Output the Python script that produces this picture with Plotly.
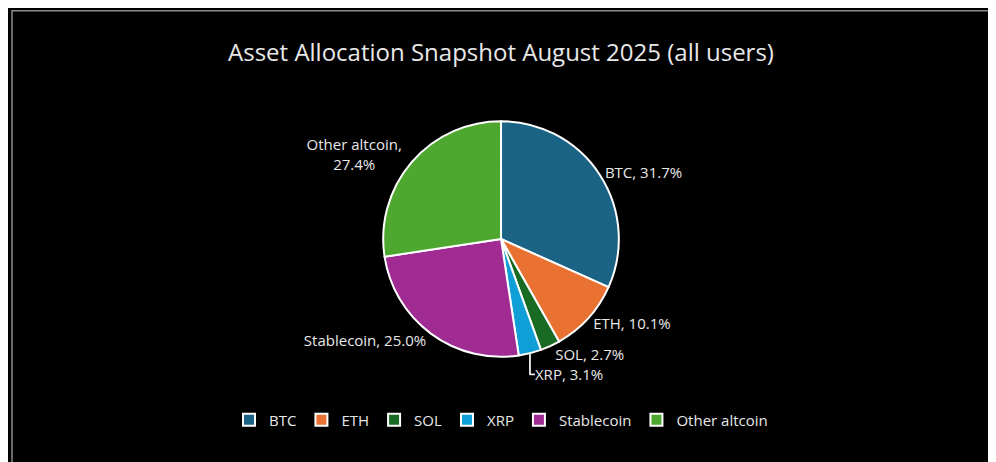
import plotly.graph_objects as go

labels = ["BTC", "ETH", "SOL", "XRP", "Stablecoin", "Other altcoin"]
values = [31.7, 10.1, 2.7, 3.1, 25.0, 27.4]
colors = ["#1b6385", "#e97132", "#196b24", "#0f9ed5", "#a02b93", "#4ea72e"]
texts = ["BTC, 31.7%", "ETH, 10.1%", "SOL, 2.7%", "XRP, 3.1%",
         "Stablecoin, 25.0%", "Other altcoin,<br>27.4%"]

fig = go.Figure(go.Pie(
    labels=labels, values=values, text=texts,
    textinfo="text", textposition="outside",
    sort=False, direction="clockwise", rotation=0,
    marker=dict(colors=colors, line=dict(color="white", width=2)),
    textfont=dict(color="#e8e8e8", size=15),
    domain=dict(x=[0.2, 0.79], y=[0.245, 0.755]),
    hoverinfo="label+percent",
))

fig.update_layout(
    width=996, height=462,
    paper_bgcolor="black", plot_bgcolor="black",
    font=dict(family="Open Sans, DejaVu Sans", color="#e8e8e8"),
    margin=dict(l=0, r=0, t=0, b=0, autoexpand=False),
    title=dict(text="Asset Allocation Snapshot August 2025 (all users)",
               x=0.495, y=0.903, xanchor="center", yanchor="middle",
               font=dict(size=24, color="#e8e8e8")),
    legend=dict(orientation="h", x=0.495, xanchor="center", y=0.108, yanchor="middle",
                font=dict(size=15, color="#e8e8e8"), itemwidth=30),
    showlegend=True,
    shapes=[dict(type="rect", xref="paper", yref="paper",
                 x0=0.004, x1=0.996, y0=0.006, y1=0.994,
                 line=dict(color="#8a8a8a", width=1.5))],
)

fig.write_html("out.html")
